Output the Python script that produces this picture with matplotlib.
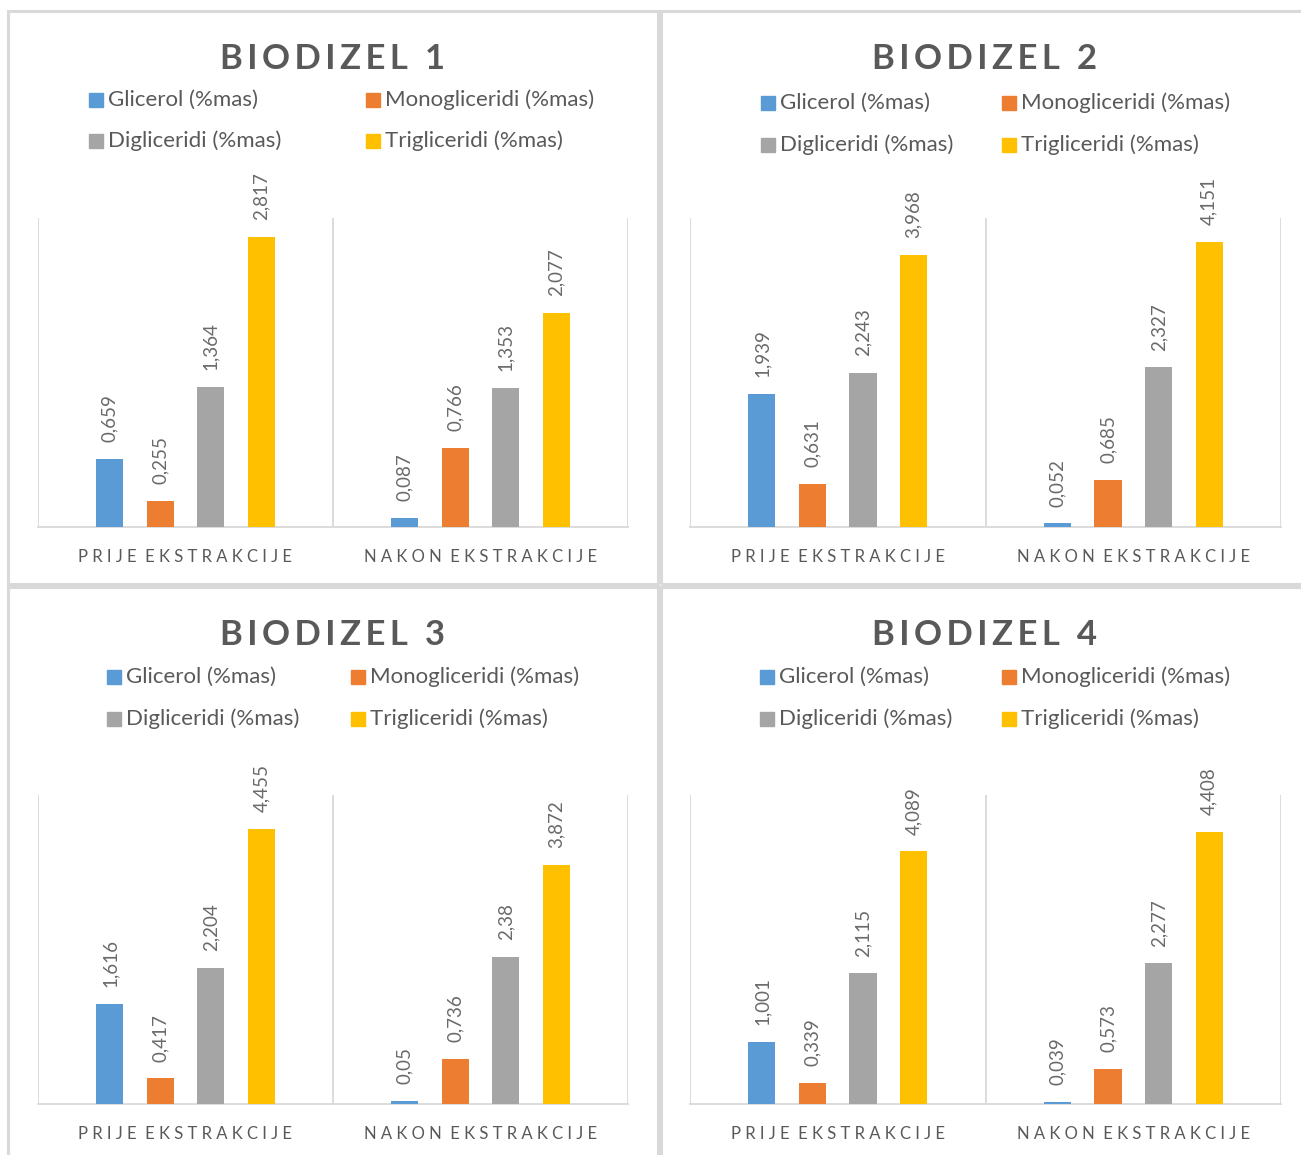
import matplotlib
matplotlib.use("Agg")
import matplotlib.pyplot as plt
from matplotlib.patches import Rectangle
import numpy as np

plt.rcParams['font.family'] = ['Lato', 'DejaVu Sans']

W, H = 1301, 1155

titles = ["BIODIZEL 1", "BIODIZEL 2", "BIODIZEL 3", "BIODIZEL 4"]
categories = ["PRIJE EKSTRAKCIJE", "NAKON EKSTRAKCIJE"]
series_names = ["Glicerol (%mas)", "Monogliceridi (%mas)", "Digliceridi (%mas)", "Trigliceridi (%mas)"]
colors = ["#5B9BD5", "#ED7D31", "#A5A5A5", "#FFC000"]

# values[panel][series] = [prije, nakon]
glicerol = [[0.659, 0.087], [1.939, 0.052], [1.616, 0.05], [1.001, 0.039]]
monogliceridi = [[0.255, 0.766], [0.631, 0.685], [0.417, 0.736], [0.339, 0.573]]
digliceridi = [[1.364, 1.353], [2.243, 2.327], [2.204, 2.38], [2.115, 2.277]]
trigliceridi = [[2.817, 2.077], [3.968, 4.151], [4.455, 3.872], [4.089, 4.408]]
y_max = [3.0, 4.5, 5.0, 5.0]

TXT = "#595959"
LBL = "#6A6A6A"
GRID = "#D9D9D9"

fig = plt.figure(figsize=(W / 100, H / 100), dpi=100)

def fx(x):
    return x / W

def fy(y):
    return 1 - y / H

# panel borders (px): x0, y0, x1, y1
borders = [(8, 11, 658, 584), (661, 11, 1306, 584), (8, 587, 658, 1160), (661, 587, 1306, 1160)]
for (x0, y0, x1, y1) in borders:
    fig.patches.append(Rectangle((fx(x0), fy(y1)), fx(x1 - x0), (y1 - y0) / H,
                                 transform=fig.transFigure, fill=False,
                                 edgecolor=GRID, lw=2.2))

# axes placement (px): left, right, top, bottom
axes_px = [(38, 628, 218, 527), (690, 1281, 218, 527), (38, 628, 795, 1104), (690, 1281, 795, 1104)]
title_y = [59, 59, 635, 635]
title_x = [333, 985, 333, 985]
# legend positions: col1 marker x, col2 marker x, row1 y, row2 y
legend_px = [(89, 366, 100, 141), (761, 1002, 103, 145), (107, 351, 677, 719), (760, 1002, 677, 719)]

def spaced(s, sep="\u2009"):
    return sep.join(list(s)).replace(sep + " " + sep, "  ")

bw = 0.0915
step = 0.171
for p in range(4):
    l, r, t, b = axes_px[p]
    ax = fig.add_axes([fx(l), fy(b), (r - l) / W, (b - t) / H])
    vals = [glicerol[p], monogliceridi[p], digliceridi[p], trigliceridi[p]]
    x = np.arange(len(categories))
    for i, v in enumerate(vals):
        pos = x + (i - 1.5) * step
        bars = ax.bar(pos, v, width=bw, color=colors[i], zorder=3)
        for rect, val in zip(bars, v):
            ax.annotate(str(val).replace(".", ","),
                        (rect.get_x() + rect.get_width() / 2, rect.get_height()),
                        xytext=(0, 12), textcoords="offset points",
                        rotation=90, ha="center", va="bottom",
                        fontsize=13.5, color=LBL)
    ax.set_xlim(-0.5, 1.5)
    ax.set_ylim(0, y_max[p])
    ax.set_yticks([])
    ax.set_xticks(x, [spaced(c, " ") for c in categories])
    ax.tick_params(axis="x", length=0, pad=16, labelsize=12, labelcolor=TXT)
    for s in ["top", "right", "left"]:
        ax.spines[s].set_visible(False)
    ax.spines["bottom"].set_color(GRID)
    ax.spines["bottom"].set_linewidth(1.3)
    for xv in [-0.5, 0.5, 1.5]:
        ax.axvline(xv, color=GRID, lw=1.3, zorder=1)

    fig.text(fx(title_x[p]), fy(title_y[p]), spaced(titles[p]), ha="center", va="center",
             fontsize=25, fontweight="bold", color=TXT)

    c1, c2, r1, r2 = legend_px[p]
    spots = [(c1, r1), (c2, r1), (c1, r2), (c2, r2)]
    for i, (mx, my) in enumerate(spots):
        fig.patches.append(Rectangle((fx(mx), fy(my + 7)), 14 / W, 14 / H,
                                     transform=fig.transFigure, color=colors[i]))
        fig.text(fx(mx + 19), fy(my), series_names[i], ha="left", va="center",
                 fontsize=16, color=TXT)

fig.savefig("out.png", dpi=100)
